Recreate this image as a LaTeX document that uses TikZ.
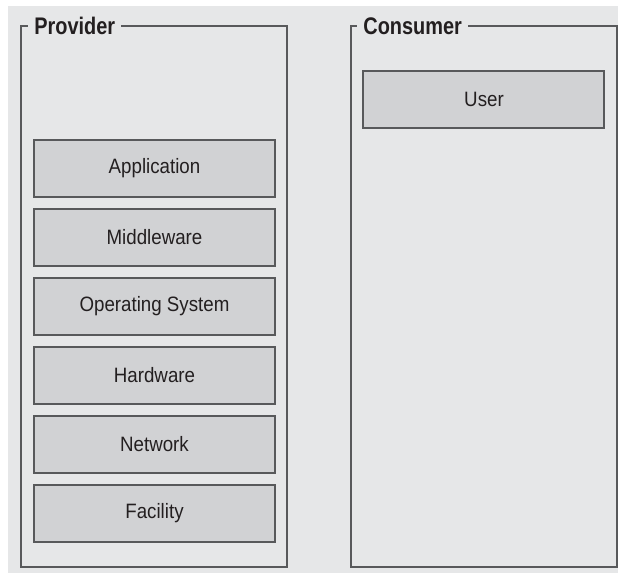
\documentclass[tikz,border=0pt]{standalone}
\usepackage{fontspec}
\setmainfont{Liberation Sans}[FakeStretch=0.9]
\newfontfamily\titlefont{Liberation Sans Bold}[FakeStretch=0.83]
\usetikzlibrary{positioning}
\definecolor{pagegray}{HTML}{E6E7E8}
\definecolor{boxgray}{HTML}{D1D2D4}
\definecolor{linegray}{HTML}{58595B}
\definecolor{inkgray}{HTML}{231F20}

\begin{document}
\begin{tikzpicture}[
			x=0.5pt, y=-0.5pt,
			node distance=5pt,
			frame/.style={rectangle, draw=linegray, line width=1pt, minimum width=133pt, minimum height=270.5pt, inner sep=0pt},
			layer/.style={rectangle, draw=linegray, line width=1pt, fill=boxgray, minimum width=120.5pt, minimum height=28.5pt, inner sep=0pt, text=inkgray, font=\fontsize{10.4}{12}\selectfont},
			title/.style={anchor=west, fill=pagegray, inner xsep=3pt, inner ysep=1pt, text=inkgray, font=\titlefont\fontsize{12}{14}\selectfont}
			]
			
			\useasboundingbox (0,0) rectangle (618,574);
			\fill[white] (0,0) rectangle (618,574);
			\fill[pagegray] (8,6) rectangle (618,573);
			
			% the two outer frames
			\node[frame] (provider) at (154,296.5) {};
			\node[frame] (consumer) at (484,296.5) {};
			\node[title] (provtitle) at (28,26) {Provider};
			\node[title] (constitle) at (357,26) {Consumer};
			
			% provider stack
			\node[layer] (app) at (154.5,168.5) {Application};
			\node[layer, below=of app] (mid) {Middleware};
			\node[layer, below=of mid] (os) {Operating System};
			\node[layer, below=of os] (hw) {Hardware};
			\node[layer, below=of hw] (net) {Network};
			\node[layer, below=of net] (fac) {Facility};
			
			% consumer side
			\node[layer] (user) at (484,99.5) {User};
		\end{tikzpicture}
\end{document}
